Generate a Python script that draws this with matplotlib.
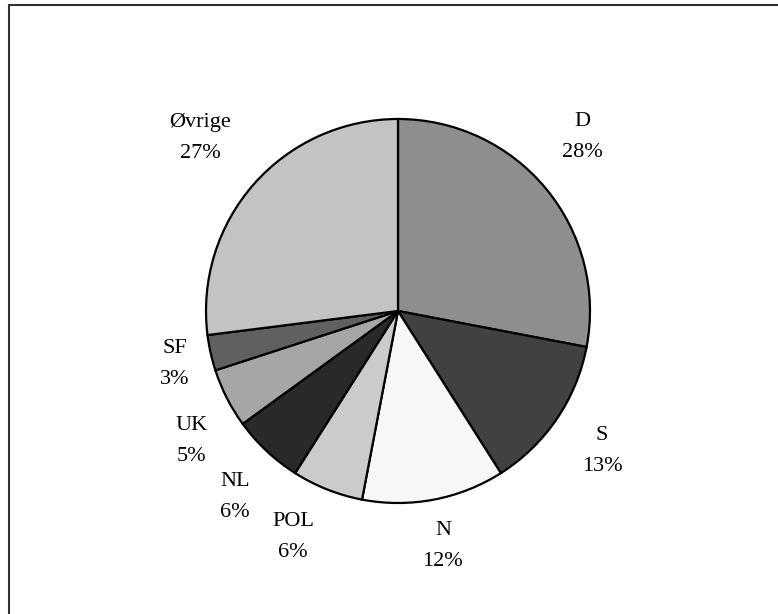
import matplotlib.pyplot as plt
from matplotlib.patches import Rectangle

# market shares, clockwise from 12 o'clock
lande = ["D", "S", "N", "POL", "NL", "UK", "SF", "Øvrige"]
andel = [28, 13, 12, 6, 6, 5, 3, 27]
farver = ["#8e8e8e", "#414141", "#f7f7f7", "#cbcbcb",
          "#292929", "#a6a6a6", "#606060", "#c3c3c3"]

# label centres, in units of the pie radius
label_pos = [(0.958, 0.906), (1.0625, -0.729), (0.234, -1.224), (-0.547, -1.177),
             (-0.849, -0.969), (-1.073, -0.677), (-1.161, -0.276), (-1.031, 0.901)]

plt.rcParams['font.family'] = ['Liberation Serif', 'DejaVu Serif']

fig = plt.figure(figsize=(7.78, 6.14), dpi=100)
W, H = 778, 614
R = 192.0
cx, cy = 398.0, 311.0

ax = fig.add_axes([(cx - R) / W, 1 - (cy + R) / H, 2 * R / W, 2 * R / H])
wedges, _ = ax.pie(andel, colors=farver, startangle=90, counterclock=False,
                   radius=1.0,
                   wedgeprops=dict(edgecolor="black", linewidth=1.6))
ax.set_xlim(-1, 1)
ax.set_ylim(-1, 1)
ax.set_aspect("equal")
ax.axis("off")

for navn, v, (lx, ly) in zip(lande, andel, label_pos):
    ax.text(lx, ly, "%s\n%d%%" % (navn, v), ha="center", va="center",
            fontsize=16, linespacing=1.82, clip_on=False)

# frame round the chart area (top and left edges visible)
fig.patches.append(Rectangle((9 / W, -0.1), 1.2, (H - 5) / H + 0.1,
                             transform=fig.transFigure, fill=False,
                             edgecolor="#303030", linewidth=1.5))

fig.savefig("out.png", dpi=100)
